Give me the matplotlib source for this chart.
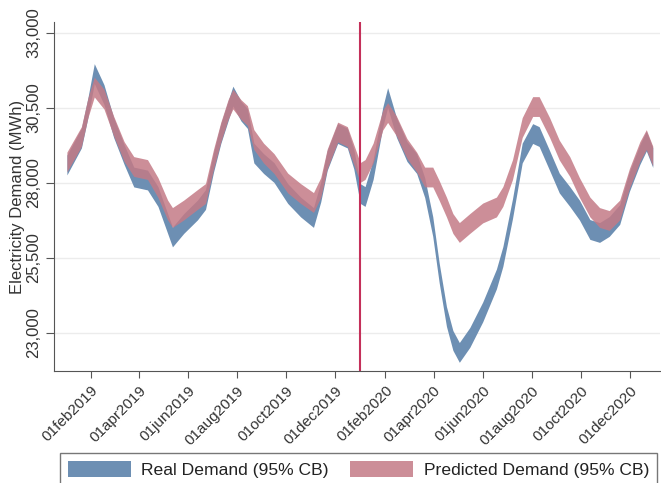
import numpy as np
import pandas as pd
import matplotlib
matplotlib.use("Agg")
import matplotlib.pyplot as plt
from matplotlib.ticker import FuncFormatter

plt.rcParams['font.family'] = ['Liberation Sans', 'DejaVu Sans']

# values (MWh), centre of each 95% band
dates = ["2019-01-02", "2019-01-20", "2019-01-28", "2019-02-05", "2019-02-17",
         "2019-03-01", "2019-03-14", "2019-03-26", "2019-04-12", "2019-04-25",
         "2019-05-07", "2019-05-13", "2019-05-27", "2019-06-13", "2019-06-23",
         "2019-07-03", "2019-07-12", "2019-07-21", "2019-07-27", "2019-08-06",
         "2019-08-14", "2019-08-22", "2019-09-03", "2019-09-16", "2019-10-03",
         "2019-10-19", "2019-11-04", "2019-11-13", "2019-11-21", "2019-12-04",
         "2019-12-16", "2019-12-24", "2020-01-01", "2020-01-07", "2020-01-17",
         "2020-01-29", "2020-02-04", "2020-02-15", "2020-02-28", "2020-03-11",
         "2020-03-21", "2020-03-31", "2020-04-08", "2020-04-17", "2020-04-25",
         "2020-05-03", "2020-05-16", "2020-06-01", "2020-06-18", "2020-06-26",
         "2020-07-08", "2020-07-20", "2020-08-02", "2020-08-10", "2020-08-23",
         "2020-09-04", "2020-09-17", "2020-09-29", "2020-10-12", "2020-10-24",
         "2020-11-05", "2020-11-18", "2020-11-30", "2020-12-13", "2020-12-21",
         "2020-12-29"]

real = [28600, 29500, 30500, 31650, 30950, 29850, 28950, 28200, 28100, 27550,
        26650, 26200, 26650, 27100, 27450, 28700, 29650, 30400, 30900, 30400,
        30150, 29000, 28650, 28350, 27650, 27200, 26850, 27700, 28750, 29650,
        29500, 28800, 27650, 27550, 28450, 30200, 30850, 29850, 29050, 28650,
        27850, 26550, 25000, 23550, 22750, 22350, 22850, 23700, 24800, 25550,
        27150, 29000, 29650, 29550, 28750, 28000, 27550, 27100, 26450, 26350,
        26550, 26950, 28050, 28950, 29400, 28850]

predicted = [28700, 29550, 30500, 31200, 30800, 29900, 29050, 28550, 28450, 27850,
             27100, 26850, 27100, 27450, 27650, 28800, 29700, 30450, 30800, 30450,
             30250, 29450, 29000, 28650, 28000, 27650, 27350, 27850, 28800, 29700,
             29550, 28950, 28350, 28450, 29000, 30100, 30350, 29900, 29150, 28700,
             28200, 28200, 27750, 27200, 26650, 26350, 26650, 27000, 27200, 27550,
             28450, 29850, 30550, 30550, 29850, 29100, 28550, 27850, 27200, 26850,
             26750, 27100, 28150, 29050, 29450, 28900]

real_ci = 330
pred_ci = 330

tick_dates = ["2019-02-01", "2019-04-01", "2019-06-01", "2019-08-01", "2019-10-01",
              "2019-12-01", "2020-02-01", "2020-04-01", "2020-06-01", "2020-08-01",
              "2020-10-01", "2020-12-01"]
y_ticks = [23000, 25500, 28000, 30500, 33000]
break_date = "2020-01-01"

x = pd.to_datetime(dates)
real = np.array(real)
predicted = np.array(predicted)

blue = '#6d8fb3'
red = '#c47a86'

fig = plt.figure(figsize=(6.61, 4.83), dpi=100)
ax = fig.add_axes([54/661, 112/483, 606/661, 349/483])

ax.fill_between(x, real - real_ci, real + real_ci, color=blue, lw=0,
                label='Real Demand (95% CB)')
ax.fill_between(x, predicted - pred_ci, predicted + pred_ci, color=red, lw=0,
                alpha=0.85, label='Predicted Demand (95% CB)')
ax.axvline(pd.Timestamp(break_date), color='#c4305a', lw=1.5)

ax.set_xlim(pd.Timestamp("2018-12-17"), pd.Timestamp("2021-01-07"))
ax.set_ylim(21730, 33370)

ax.set_yticks(y_ticks)
ax.yaxis.set_major_formatter(FuncFormatter(lambda v, p: f"{int(v):,}"))
ax.grid(axis='y', color='#ececec', lw=1)
ax.set_axisbelow(True)
for lab in ax.get_yticklabels():
    lab.set_rotation(90)
    lab.set_va('center')
ax.tick_params(axis='y', labelsize=12, length=6, color='#555555', labelcolor='#333333', pad=3)

ax.set_xticks(pd.to_datetime(tick_dates))
ax.set_xticklabels([pd.Timestamp(d).strftime('%d%b%Y').lower() for d in tick_dates],
                   rotation=45, ha='right', rotation_mode='anchor')
ax.tick_params(axis='x', labelsize=11, length=5, color='#555555', labelcolor='#333333', pad=4)

ax.set_ylabel('Electricity Demand (MWh)', fontsize=12, color='#333333', labelpad=1)

for s in ['top', 'right']:
    ax.spines[s].set_visible(False)
for s in ['left', 'bottom']:
    ax.spines[s].set_color('#555555')

leg = fig.legend(loc='upper left', bbox_to_anchor=(60/661, 1 - 453/483, 597/661, 0.0),
                 mode='expand', ncol=2, fontsize=12.6, frameon=True, fancybox=False,
                 handlelength=3.6, handleheight=1.0, borderpad=0.45, handletextpad=0.6,
                 borderaxespad=0)
leg.get_frame().set_edgecolor('#555555')
leg.get_frame().set_linewidth(1)
for t in leg.get_texts():
    t.set_color('#222222')

fig.savefig('out.png', dpi=100)
